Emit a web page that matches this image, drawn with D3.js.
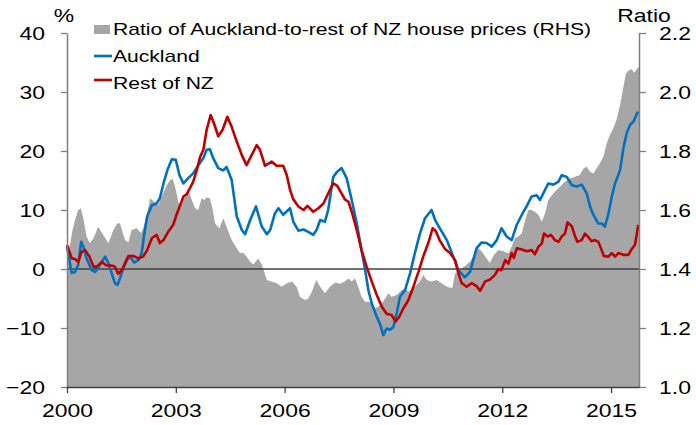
<!DOCTYPE html>
<html>
<head>
<meta charset="utf-8">
<script src="https://cdn.jsdelivr.net/npm/d3@7"></script>
<style>
  body { margin: 0; background: #fff; }
  text { font-family: "Liberation Sans", Arial, sans-serif; fill: #000; }
</style>
</head>
<body>
<svg id="chart" width="696" height="425"></svg>
<script>
// [decimal year, value]
var ratioData = [
  [2000.00, 1.46], [2000.08, 1.48], [2000.15, 1.53], [2000.22, 1.566], [2000.31, 1.600], [2000.38, 1.606],
  [2000.45, 1.572], [2000.54, 1.510], [2000.63, 1.487], [2000.73, 1.504], [2000.86, 1.543], [2001.00, 1.515],
  [2001.14, 1.487], [2001.28, 1.532], [2001.39, 1.555], [2001.46, 1.554], [2001.60, 1.498], [2001.69, 1.49],
  [2001.78, 1.532], [2001.92, 1.538], [2002.04, 1.521], [2002.10, 1.538], [2002.20, 1.583], [2002.29, 1.64],
  [2002.40, 1.628], [2002.52, 1.617], [2002.61, 1.645], [2002.73, 1.679], [2002.84, 1.702], [2002.91, 1.706],
  [2002.98, 1.679], [2003.07, 1.628], [2003.13, 1.606], [2003.23, 1.64], [2003.34, 1.67], [2003.44, 1.634],
  [2003.53, 1.606], [2003.62, 1.60], [2003.71, 1.64], [2003.78, 1.634], [2003.85, 1.642], [2003.94, 1.64],
  [2004.02, 1.60], [2004.08, 1.555], [2004.20, 1.538], [2004.31, 1.572], [2004.40, 1.543], [2004.54, 1.498],
  [2004.68, 1.47], [2004.77, 1.453], [2004.86, 1.455], [2004.95, 1.442], [2005.05, 1.425], [2005.14, 1.415],
  [2005.27, 1.436], [2005.37, 1.415], [2005.51, 1.363], [2005.64, 1.358], [2005.78, 1.352], [2005.92, 1.34],
  [2006.06, 1.352], [2006.20, 1.358], [2006.33, 1.34], [2006.42, 1.306], [2006.56, 1.295], [2006.65, 1.30],
  [2006.75, 1.323], [2006.87, 1.363], [2006.98, 1.34], [2007.11, 1.318], [2007.25, 1.34], [2007.39, 1.354],
  [2007.53, 1.35], [2007.66, 1.358], [2007.76, 1.368], [2007.85, 1.358], [2007.94, 1.368], [2008.03, 1.34],
  [2008.12, 1.306], [2008.22, 1.289], [2008.31, 1.289], [2008.40, 1.284], [2008.49, 1.267], [2008.58, 1.272],
  [2008.68, 1.284], [2008.77, 1.30], [2008.86, 1.318], [2008.95, 1.306], [2009.09, 1.312], [2009.23, 1.329],
  [2009.32, 1.335], [2009.41, 1.323], [2009.55, 1.335], [2009.64, 1.346], [2009.73, 1.358], [2009.82, 1.38],
  [2009.92, 1.363], [2010.05, 1.358], [2010.19, 1.363], [2010.33, 1.352], [2010.47, 1.34], [2010.62, 1.335],
  [2010.70, 1.385], [2010.83, 1.397], [2010.97, 1.41], [2011.11, 1.425], [2011.25, 1.453], [2011.34, 1.47],
  [2011.43, 1.46], [2011.57, 1.436], [2011.66, 1.42], [2011.76, 1.446], [2011.89, 1.464], [2012.03, 1.46],
  [2012.17, 1.453], [2012.26, 1.476], [2012.35, 1.504], [2012.44, 1.51], [2012.54, 1.521], [2012.63, 1.566],
  [2012.72, 1.60], [2012.81, 1.60], [2012.90, 1.594], [2013.00, 1.583], [2013.09, 1.56], [2013.18, 1.589],
  [2013.27, 1.634], [2013.41, 1.657], [2013.55, 1.674], [2013.64, 1.685], [2013.73, 1.696], [2013.87, 1.707],
  [2014.01, 1.713], [2014.14, 1.719], [2014.24, 1.741], [2014.33, 1.747], [2014.42, 1.73], [2014.51, 1.724],
  [2014.60, 1.741], [2014.70, 1.76], [2014.79, 1.781], [2014.88, 1.826], [2014.97, 1.854], [2015.06, 1.877],
  [2015.15, 1.905], [2015.25, 1.956], [2015.34, 2.018], [2015.41, 2.063], [2015.50, 2.075], [2015.57, 2.077],
  [2015.64, 2.065], [2015.72, 2.08], [2015.77, 2.085]
];

var aucklandData = [
  [2000.00, 3.8], [2000.13, -0.7], [2000.22, -0.5], [2000.31, 0.7], [2000.39, 4.6], [2000.45, 3.8],
  [2000.54, 1.8], [2000.68, -0.2], [2000.77, -0.5], [2000.91, 0.7], [2001.05, 2.1], [2001.14, 1.0],
  [2001.23, -0.7], [2001.32, -2.4], [2001.39, -2.7], [2001.46, -1.6], [2001.55, 0.1], [2001.65, 1.5],
  [2001.74, 2.1], [2001.85, 1.1], [2001.97, 1.5], [2002.06, 2.7], [2002.12, 5.5], [2002.21, 8.9],
  [2002.34, 10.8], [2002.47, 11.1], [2002.56, 12.0], [2002.66, 14.5], [2002.77, 16.8], [2002.89, 18.6],
  [2003.00, 18.5], [2003.10, 15.9], [2003.21, 14.5], [2003.34, 15.4], [2003.48, 16.2], [2003.62, 17.6],
  [2003.76, 18.8], [2003.85, 20.2], [2003.94, 20.3], [2004.03, 18.8], [2004.17, 17.1], [2004.31, 16.7],
  [2004.40, 17.3], [2004.54, 15.1], [2004.68, 8.9], [2004.82, 6.6], [2004.91, 5.9], [2005.05, 8.3],
  [2005.21, 10.6], [2005.37, 7.2], [2005.51, 5.9], [2005.60, 6.6], [2005.73, 9.4], [2005.83, 10.3],
  [2005.96, 9.2], [2006.15, 10.3], [2006.24, 8.0], [2006.38, 6.5], [2006.52, 6.7], [2006.65, 6.3],
  [2006.79, 5.8], [2006.88, 6.6], [2006.98, 8.3], [2007.11, 8.0], [2007.20, 10.0], [2007.34, 15.6],
  [2007.45, 16.5], [2007.57, 17.1], [2007.71, 15.4], [2007.85, 11.7], [2007.99, 7.7], [2008.12, 3.2],
  [2008.22, -0.2], [2008.31, -3.6], [2008.40, -5.8], [2008.54, -8.1], [2008.63, -9.3], [2008.72, -11.2],
  [2008.81, -10.1], [2008.91, -10.3], [2009.00, -9.8], [2009.09, -7.5], [2009.18, -4.7], [2009.32, -3.6],
  [2009.46, -0.7], [2009.59, 2.7], [2009.73, 6.0], [2009.87, 8.6], [2010.05, 10.0], [2010.15, 8.3],
  [2010.28, 6.9], [2010.47, 4.9], [2010.65, 2.1], [2010.79, -0.2], [2010.97, -1.4], [2011.11, -0.5],
  [2011.20, 1.5], [2011.29, 3.5], [2011.43, 4.5], [2011.57, 4.4], [2011.71, 3.8], [2011.85, 4.9],
  [2011.98, 6.9], [2012.12, 5.5], [2012.26, 4.9], [2012.40, 7.5], [2012.54, 9.2], [2012.67, 10.6],
  [2012.81, 12.3], [2012.95, 12.5], [2013.04, 11.7], [2013.18, 13.4], [2013.27, 14.5], [2013.41, 14.3],
  [2013.55, 14.8], [2013.64, 15.9], [2013.78, 15.6], [2013.92, 14.2], [2014.05, 14.0], [2014.19, 14.3],
  [2014.33, 12.8], [2014.42, 10.6], [2014.51, 9.2], [2014.65, 7.7], [2014.74, 7.7], [2014.83, 7.2],
  [2014.93, 9.4], [2015.02, 12.3], [2015.11, 14.5], [2015.25, 16.8], [2015.34, 20.5], [2015.43, 23.0],
  [2015.52, 24.4], [2015.62, 25.0], [2015.74, 26.7]
];

var restData = [
  [2000.00, 4.1], [2000.13, 1.8], [2000.22, 1.7], [2000.31, 1.2], [2000.40, 2.9], [2000.50, 3.2],
  [2000.62, 2.1], [2000.73, 0.4], [2000.82, 0.4], [2000.96, 1.2], [2001.09, 0.6], [2001.23, 0.6],
  [2001.32, 0.4], [2001.41, -0.8], [2001.51, -0.2], [2001.60, 1.0], [2001.69, 2.2], [2001.83, 2.2],
  [2001.97, 1.8], [2002.10, 2.1], [2002.21, 3.2], [2002.34, 5.2], [2002.47, 5.8], [2002.56, 4.4],
  [2002.66, 4.9], [2002.79, 6.3], [2002.93, 7.5], [2003.02, 9.2], [2003.12, 10.8], [2003.21, 12.3],
  [2003.30, 12.7], [2003.39, 13.7], [2003.48, 14.8], [2003.58, 16.8], [2003.67, 19.0], [2003.76, 20.2],
  [2003.85, 23.6], [2003.96, 26.1], [2004.05, 24.7], [2004.17, 22.5], [2004.29, 23.6], [2004.42, 25.8],
  [2004.54, 24.1], [2004.68, 21.6], [2004.82, 19.3], [2004.95, 17.6], [2005.09, 19.3], [2005.23, 21.0],
  [2005.32, 20.2], [2005.46, 17.5], [2005.64, 18.2], [2005.78, 17.5], [2005.96, 17.5], [2006.06, 15.9],
  [2006.15, 13.4], [2006.24, 11.8], [2006.38, 10.6], [2006.52, 10.0], [2006.63, 10.7], [2006.79, 9.7],
  [2006.93, 10.3], [2007.07, 11.1], [2007.20, 12.8], [2007.34, 14.5], [2007.45, 14.1], [2007.57, 12.8],
  [2007.66, 11.8], [2007.76, 11.4], [2007.85, 9.7], [2007.99, 6.6], [2008.12, 3.2], [2008.26, 0.4],
  [2008.40, -2.1], [2008.54, -4.4], [2008.68, -6.4], [2008.81, -7.6], [2008.95, -7.8], [2009.06, -8.9],
  [2009.16, -8.1], [2009.27, -6.7], [2009.41, -5.3], [2009.55, -3.0], [2009.69, -0.5], [2009.82, 2.1],
  [2009.96, 4.4], [2010.08, 6.9], [2010.17, 6.4], [2010.28, 4.8], [2010.42, 3.4], [2010.56, 2.7],
  [2010.70, 1.5], [2010.79, -0.7], [2010.88, -2.4], [2011.02, -3.0], [2011.16, -2.4], [2011.29, -2.9],
  [2011.39, -3.7], [2011.53, -2.1], [2011.66, -1.8], [2011.80, -1.0], [2011.89, 0.0], [2011.98, -0.2],
  [2012.08, 1.5], [2012.17, 0.9], [2012.26, 2.7], [2012.32, 1.9], [2012.40, 3.5], [2012.54, 3.3],
  [2012.67, 3.0], [2012.81, 3.2], [2012.90, 2.5], [2013.00, 3.8], [2013.09, 4.3], [2013.15, 6.0],
  [2013.25, 5.5], [2013.34, 5.8], [2013.45, 4.9], [2013.55, 4.6], [2013.64, 5.5], [2013.73, 6.0],
  [2013.80, 7.9], [2013.92, 7.2], [2014.01, 5.5], [2014.07, 4.6], [2014.19, 4.9], [2014.28, 6.0],
  [2014.36, 5.5], [2014.46, 4.7], [2014.55, 4.9], [2014.65, 4.6], [2014.74, 3.2], [2014.80, 2.2],
  [2014.93, 2.1], [2015.02, 2.7], [2015.11, 2.1], [2015.20, 2.7], [2015.34, 2.4], [2015.48, 2.4],
  [2015.57, 3.4], [2015.66, 4.1], [2015.75, 7.5]
];

var xTicks = [2000, 2003, 2006, 2009, 2012, 2015];
var leftTicks = [-20, -10, 0, 10, 20, 30, 40];
var rightTicks = [1.0, 1.2, 1.4, 1.6, 1.8, 2.0, 2.2];
var legendLabels = ["Ratio of Auckland-to-rest of NZ house prices (RHS)", "Auckland", "Rest of NZ"];

var colors = { ratio: "#a6a6a6", auckland: "#0070c0", rest: "#c00000" };

(function() {
  var svg = d3.select("#chart");
  var margin = { left: 67, right: 639, top: 33, bottom: 387 };
  var stretch = 1.24; // the original text is drawn wide

  var x = d3.scaleLinear().domain([2000, 2015.77]).range([margin.left, margin.right]);
  var yL = d3.scaleLinear().domain([-20, 40]).range([margin.bottom, margin.top]);
  var yR = d3.scaleLinear().domain([1.0, 2.2]).range([margin.bottom, margin.top]);

  // ratio area (RHS)
  var area = d3.area()
    .x(function(d) { return x(d[0]); })
    .y0(yR(1.0))
    .y1(function(d) { return yR(d[1]); });

  svg.append("path")
    .datum(ratioData)
    .attr("fill", colors.ratio)
    .attr("d", area);

  // zero line
  svg.append("line")
    .attr("x1", margin.left).attr("x2", margin.right)
    .attr("y1", yL(0)).attr("y2", yL(0))
    .attr("stroke", "#404040")
    .attr("stroke-width", 1.3);

  var line = d3.line()
    .x(function(d) { return x(d[0]); })
    .y(function(d) { return yL(d[1]); });

  svg.append("path")
    .datum(aucklandData)
    .attr("fill", "none")
    .attr("stroke", colors.auckland)
    .attr("stroke-width", 2.6)
    .attr("stroke-linejoin", "round")
    .attr("d", line);

  svg.append("path")
    .datum(restData)
    .attr("fill", "none")
    .attr("stroke", colors.rest)
    .attr("stroke-width", 2.6)
    .attr("stroke-linejoin", "round")
    .attr("d", line);

  // axes
  var gLeft = svg.append("g")
    .attr("transform", "translate(" + margin.left + ",0)")
    .call(d3.axisLeft(yL).tickValues(leftTicks).tickSize(6).tickSizeOuter(0).tickPadding(16));

  var gRight = svg.append("g")
    .attr("transform", "translate(" + margin.right + ",0)")
    .call(d3.axisRight(yR).tickValues(rightTicks).tickSize(7).tickSizeOuter(0).tickPadding(13)
      .tickFormat(d3.format(".1f")));

  var gBottom = svg.append("g")
    .attr("transform", "translate(0," + margin.bottom + ")")
    .call(d3.axisBottom(x).tickValues(xTicks).tickSize(6).tickSizeOuter(0).tickPadding(11)
      .tickFormat(d3.format("d")));

  [gLeft, gRight].forEach(function(g) {
    g.select(".domain").attr("stroke", "#7f7f7f").attr("stroke-width", 1.5);
    g.selectAll(".tick line").attr("stroke", "#7f7f7f").attr("stroke-width", 1.3);
  });
  gBottom.select(".domain").attr("stroke", "#404040").attr("stroke-width", 1.5);
  gBottom.selectAll(".tick line").attr("stroke", "#404040").attr("stroke-width", 1.3);

  svg.selectAll(".tick text")
    .attr("font-family", "Liberation Sans, Arial, sans-serif")
    .attr("font-size", 18.5)
    .attr("fill", "#000");
  gLeft.selectAll(".tick text").attr("dy", "0.36em");
  gRight.selectAll(".tick text").attr("dy", "0.36em");

  // axis titles
  svg.append("text")
    .attr("x", 64).attr("y", 22)
    .attr("text-anchor", "middle")
    .attr("font-size", 18.5)
    .text("%");

  svg.append("text")
    .attr("x", 644).attr("y", 22)
    .attr("text-anchor", "middle")
    .attr("font-size", 18.5)
    .text("Ratio");

  // legend
  var legend = svg.append("g").attr("transform", "translate(94,0)");
  legend.append("rect")
    .attr("x", 0).attr("y", 25).attr("width", 16).attr("height", 9)
    .attr("fill", colors.ratio);
  legend.append("line")
    .attr("x1", 0).attr("x2", 18).attr("y1", 56).attr("y2", 56)
    .attr("stroke", colors.auckland).attr("stroke-width", 2.6);
  legend.append("line")
    .attr("x1", 0).attr("x2", 18).attr("y1", 80).attr("y2", 80)
    .attr("stroke", colors.rest).attr("stroke-width", 2.6);

  legend.selectAll("text.lab")
    .data(legendLabels)
    .enter().append("text")
    .attr("class", "lab")
    .attr("x", 19)
    .attr("y", function(d, i) { return [35, 62, 89][i]; })
    .attr("font-size", 17)
    .text(function(d) { return d; });

  // widen every label like the source
  svg.selectAll("text").each(function() {
    var w = this.getComputedTextLength();
    d3.select(this).attr("textLength", w * stretch).attr("lengthAdjust", "spacingAndGlyphs");
  });
})();
</script>
</body>
</html>
